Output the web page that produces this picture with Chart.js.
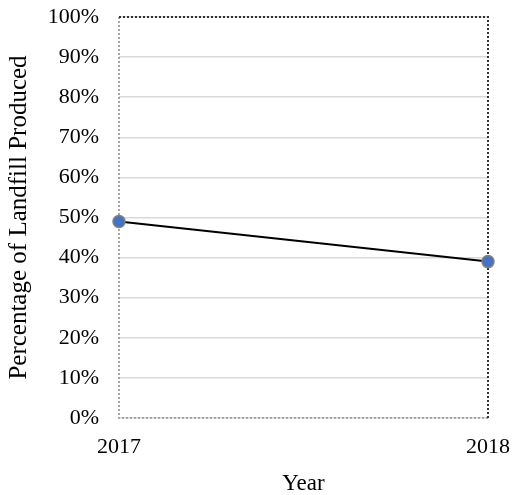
<!DOCTYPE html>
<html>
<head>
<meta charset="utf-8">
<script src="https://cdn.jsdelivr.net/npm/chart.js@4"></script>
<style>
  html, body { margin: 0; padding: 0; background: #fff; }
  #wrap { width: 513px; height: 495px; }
</style>
</head>
<body>
<div id="wrap"><canvas id="chart"></canvas></div>
<script>
// data
const years = ['2017', '2018'];
const landfillPct = [49, 39];

// dotted frame round the plot area: dark on top/right, grey on left/bottom
const frame = {
  id: 'frame',
  beforeDatasetsDraw(chart) {
    const { ctx, chartArea: a } = chart;
    ctx.save();
    ctx.lineWidth = 2;
    ctx.setLineDash([2, 2]);
    ctx.strokeStyle = '#a6a6a6';
    ctx.beginPath();
    ctx.moveTo(a.left, a.top);
    ctx.lineTo(a.left, a.bottom);
    ctx.lineTo(a.right, a.bottom);
    ctx.stroke();
    ctx.strokeStyle = '#333';
    ctx.beginPath();
    ctx.moveTo(a.left, a.top);
    ctx.lineTo(a.right, a.top);
    ctx.lineTo(a.right, a.bottom);
    ctx.stroke();
    ctx.restore();
  }
};

const fam = '"Liberation Serif", "Times New Roman", serif';

new Chart(document.getElementById('chart'), {
  type: 'line',
  data: {
    labels: years,
    datasets: [{
      data: landfillPct,
      borderColor: '#000',
      borderWidth: 2,
      pointRadius: 6,
      pointBackgroundColor: '#4472c4',
      pointBorderColor: '#7f7f7f',
      pointBorderWidth: 1.5,
      tension: 0,
      clip: false
    }]
  },
  options: {
    responsive: true,
    maintainAspectRatio: false,
    animation: false,
    layout: { padding: { left: 0, right: 25, top: 17, bottom: 0 } },
    plugins: { legend: { display: false }, tooltip: { enabled: false } },
    scales: {
      x: {
        type: 'category',
        offset: false,
        grid: { display: false },
        border: { display: false },
        ticks: { color: '#000', font: { family: fam, size: 22 }, padding: 8, maxRotation: 0 },
        title: { display: true, text: 'Year', color: '#000', font: { family: fam, size: 23 }, padding: { top: 0, bottom: -3 } },
        afterFit(s) { s.height = 77; s.paddingLeft = 0; s.paddingRight = 0; }
      },
      y: {
        min: 0,
        max: 100,
        grid: { color: '#d9d9d9', lineWidth: 1.5, drawTicks: false },
        border: { display: false },
        ticks: {
          stepSize: 10,
          color: '#000',
          font: { family: fam, size: 22 },
          padding: 20,
          callback: v => v + '%'
        },
        title: { display: true, text: 'Percentage of Landfill Produced', color: '#000', font: { family: fam, size: 25 }, padding: { top: 4, bottom: 0 } },
        afterFit(s) { s.width = 119; s.paddingTop = 0; s.paddingBottom = 0; }
      }
    }
  },
  plugins: [frame]
});
</script>
</body>
</html>
